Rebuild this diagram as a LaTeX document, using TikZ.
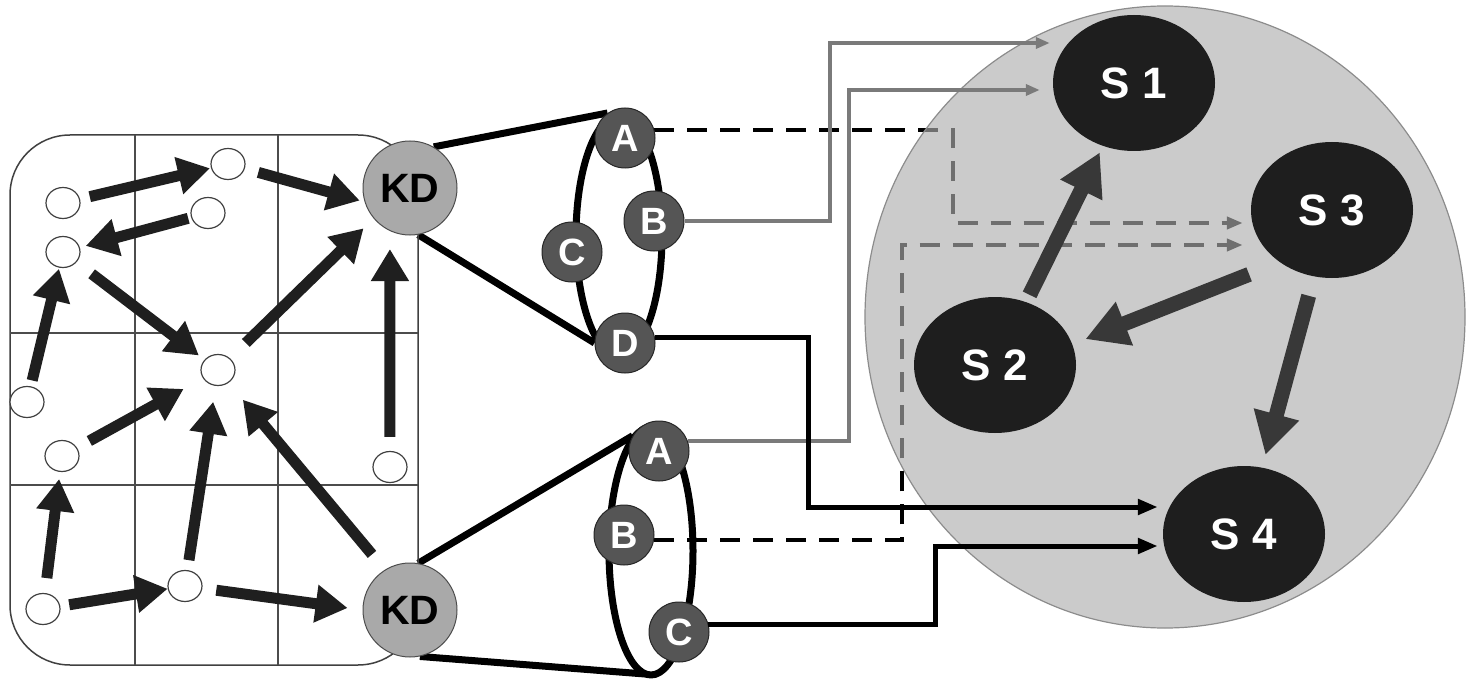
\documentclass[tikz,border=0pt]{standalone}
\usepackage{fontspec}
\setmainfont{Liberation Sans}
\usetikzlibrary{arrows.meta,shapes.geometric,calc}
\pgfdeclarelayer{wires}
\pgfdeclarelayer{pool}
\pgfsetlayers{wires,pool,main}

\definecolor{kdgray}{HTML}{A9A9A9}
\definecolor{portgray}{HTML}{555555}
\definecolor{poolgray}{HTML}{AEAEAE}
\definecolor{stategray}{HTML}{1E1E1E}
\definecolor{flowgray}{HTML}{383838}
\definecolor{linkgray}{HTML}{7A7A7A}

\tikzset{
  peer/.style={ellipse, draw=black!75, line width=1.2pt, fill=white,
    minimum width=34pt, minimum height=31pt, inner sep=0pt},
  kd/.style={circle, draw=black!70, line width=1pt, fill=kdgray, minimum size=94pt,
    inner sep=0pt, font=\bfseries\fontsize{41}{41}\selectfont},
  port/.style={circle, draw=black!85, line width=1pt, fill=portgray, minimum size=60pt,
    inner sep=0pt, text=white, font=\bfseries\fontsize{38}{38}\selectfont},
  sbox/.style={ellipse, fill=stategray, minimum width=162pt, minimum height=136pt,
    inner sep=0pt, text=white, font=\bfseries\fontsize{44}{44}\selectfont},
  gridline/.style={draw=black!70, line width=1.5pt},
  hop/.style={line width=11pt, draw=black!88, -{Triangle[length=32pt,width=36pt]}},
  flow/.style={line width=15pt, draw=flowgray, -{Triangle[length=42pt,width=44pt]}},
  cone/.style={line width=7pt, line join=round},
  solidlink/.style={line width=5pt, -{Triangle[length=20pt,width=15pt]}},
  greylink/.style={line width=4pt, draw=linkgray, -{Triangle[length=14pt,width=11pt]}},
  dashlink/.style={line width=4pt, dash pattern=on 20pt off 13pt,
    -{Triangle[length=16pt,width=12pt]}},
}

\begin{document}
\begin{tikzpicture}[x=1pt, y=-1pt]
    \useasboundingbox (0,0) rectangle (1468,682);

    % peer grid
    \draw[draw=black!75, line width=1.5pt, rounded corners=60pt] (10,135) rectangle (418,665);
    \foreach \x in {135,278} {
        \draw[gridline] (\x,135) -- (\x,665);
    }
    \foreach \y in {333,485} {
        \draw[gridline] (10,\y) -- (418,\y);
    }
    \foreach \name/\pos in {p1/{(63,203)}, p2/{(228,164)}, p3/{(208,213)}, p4/{(63,252)},
        p5/{(218,370)}, p6/{(27,402)}, p7/{(62,456)}, p8/{(390,467)}, p9/{(43,609)},
        p10/{(185,586)}} {
        \node[peer] (\name) at \pos {};
    }
    \node[kd] (kdtop) at (410,188) {KD};
    \node[kd] (kdbot) at (410,610) {KD};
    \foreach \a/\b/\s/\e in {p1/p2/10/1, p3/p4/3/6, p2/kdtop.197/14/5, p4/p5/19/7,
        p5/kdtop.220/22/14, p8/kdtop.245/14/18, p6/p4/6/1, p7/p5/14/22, p9/p7/15/7,
        p10/p5/10/16, kdbot.122/p5/20/22, p9/p10/9/0, p10/kdbot.180/14/15} {
        \draw[hop, shorten <=\s pt, shorten >=\e pt] (\a) -- (\b);
    }

    % ports
    \node[port] (A1) at (625,138) {A};
    \node[port] (B1) at (654,221) {B};
    \node[port] (C1) at (572,252) {C};
    \node[port] (D1) at (625,343) {D};
    \node[port] (A2) at (659,451) {A};
    \node[port] (B2) at (624,535) {B};
    \node[port] (C2) at (679,632) {C};
    \coordinate (rim2) at (645,674);

    % states
    \node[sbox] (S1) at (1134,83) {S 1};
    \node[sbox] (S3) at (1332,210) {S 3};
    \node[sbox] (S2) at (995,365) {S 2};
    \node[sbox] (S4) at (1244,534) {S 4};

    \begin{pgfonlayer}{wires}
        \draw[cone] (kdtop.60) -- (A1.125);
        \draw[cone] (kdtop.-80) -- (D1.180);
        \draw[cone] (619,236) ellipse [x radius=43, y radius=120];
        \draw[cone] (kdbot.80) -- (A2.150);
        \draw[cone] (kdbot.-78) -- (rim2);
        \draw[cone] (651,551) ellipse [x radius=42, y radius=124];
        \draw[dashlink] (A1.15) -- ++(299,0) |- ($(S3.west)+(-8,13)$);
        \draw[dashlink] (B2.-10) -- ++(248,0) |- ($(S3.west)+(-8,35)$);
    \end{pgfonlayer}

    \begin{pgfonlayer}{pool}
        \fill[poolgray, fill opacity=0.64] (1165,317) ellipse [x radius=300, y radius=311];
        \draw[black!45, line width=1.2pt] (1165,317) ellipse [x radius=300, y radius=311];
    \end{pgfonlayer}

    \draw[greylink] (B1.east) -- ++(145,0) |- ($(S1.west)+(-3,-40)$);
    \draw[greylink] (A2.20) -- ++(161,0) |- ($(S1.west)+(-13,7)$);
    \draw[solidlink] (D1.10) -- ++(153,0) |- ($(S4.west)+(-5,-27)$);
    \draw[solidlink] (C2.15) -- ++(227,0) |- ($(S4.west)+(-5,12)$);

    \draw[flow, shorten <=8pt, shorten >=7pt] (S2) -- (S1);
    \draw[flow, shorten <=33pt, shorten >=14pt] (S3.225) -- (S2.15);
    \draw[flow, shorten <=20pt, shorten >=13pt] (S3) -- (S4);
\end{tikzpicture}
\end{document}
